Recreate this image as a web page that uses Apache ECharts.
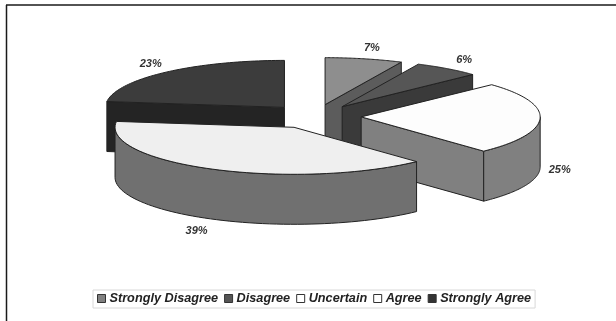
<!DOCTYPE html>
<html>
<head>
<meta charset="utf-8">
<style>html,body{margin:0;padding:0;background:#fff}#chart{width:616px;height:321px}</style>
<script src="https://cdn.jsdelivr.net/npm/echarts@6/dist/echarts.min.js"></script>
</head>
<body>
<div id="chart"></div>
<script>
const categories = ['Strongly Disagree', 'Disagree', 'Uncertain', 'Agree', 'Strongly Agree'];
const percents = [7, 6, 25, 39, 23];
const topColors = ['#8e8e8e', '#565656', '#fdfdfd', '#efefef', '#3c3c3c'];
const sideColors = ['#5c5c5c', '#3a3a3a', '#808080', '#707070', '#242424'];
const legendColors = ['#808080', '#555555', '#ffffff', '#ffffff', '#333333'];
const labelReach = [1.2, 1.16, 1.11, 1.2, 1.13];

// Oblique pie projection
const CX = 315, CY = 116.5, RX = 179, RY = 47, DEPTH = 50, EXPLODE = 0.258;
const OUTLINE = '#222222';
const total = percents.reduce((a, b) => a + b, 0);
const RAD = Math.PI / 180;

// Clockwise angles from twelve o'clock for each slice
const spans = [];
percents.reduce((acc, v) => {
  const end = acc + v / total * 360;
  spans.push([acc, end]);
  return end;
}, 0);
const midCos = spans.map(s => Math.cos((s[0] + s[1]) / 2 * RAD));
// Slices further back are painted first
const paintRank = midCos.map(c => midCos.filter(o => o > c).length);

function sliceElements(i, value) {
  const [a0, a1] = spans[i];
  const mid = (a0 + a1) / 2 * RAD;
  const ax = CX + EXPLODE * RX * Math.sin(mid);
  const ay = CY - EXPLODE * RY * Math.cos(mid);
  const rim = deg => [ax + RX * Math.sin(deg * RAD), ay - RY * Math.cos(deg * RAD)];
  const down = p => [p[0], p[1] + DEPTH];
  const wall = pts => ({
    type: 'polygon', shape: { points: pts },
    style: { fill: sideColors[i], stroke: OUTLINE, lineWidth: 1, lineJoin: 'round' }
  });
  const children = [];

  // Radial wall facing the viewer
  [a0, a1].forEach((deg, k) => {
    const s = Math.sin(deg * RAD);
    if ((k === 0 && s < -1e-6) || (k === 1 && s > 1e-6)) {
      const p = rim(deg), c = [ax, ay];
      children.push(wall([c, p, down(p), down(c)]));
    }
  });

  // Curved outer wall, only where the rim faces front
  const from = Math.max(a0, 90), to = Math.min(a1, 270);
  if (to > from) {
    const arc = [];
    for (let d = from; d <= to + 1e-6; d += (to - from) / 60) arc.push(rim(d));
    children.push(wall(arc.concat(arc.slice().reverse().map(down))));
  }

  // Top face
  const top = [[ax, ay]];
  for (let d = a0; d <= a1 + 1e-6; d += (a1 - a0) / 60) top.push(rim(d));
  children.push({
    type: 'polygon', shape: { points: top },
    style: { fill: topColors[i], stroke: OUTLINE, lineWidth: 1, lineJoin: 'round' }
  });

  // Percentage label outside the rim
  children.push({
    type: 'text',
    x: ax + labelReach[i] * RX * Math.sin(mid),
    y: ay - 1.25 * RY * Math.cos(mid) + (Math.cos(mid) < 0 ? DEPTH : 0) + 1,
    style: {
      text: value + '%', align: 'center', verticalAlign: 'middle',
      font: 'italic bold 11px "Liberation Sans", Arial, sans-serif', fill: '#333333'
    }
  });
  return { type: 'group', children };
}

const chart = echarts.init(document.getElementById('chart'), null, { renderer: 'canvas' });
chart.setOption({
  animation: false,
  backgroundColor: '#ffffff',
  legend: {
    left: 93, top: 290,
    orient: 'horizontal',
    icon: 'rect',
    itemWidth: 8, itemHeight: 8, itemGap: 6,
    padding: [2, 4, 3, 4],
    borderColor: '#d8d8d8', borderWidth: 1,
    selectedMode: false,
    textStyle: {
      color: '#222222', fontSize: 12.7, fontStyle: 'italic', fontWeight: 'bold',
      fontFamily: '"Liberation Sans", Arial, sans-serif', padding: [0, 0, 0, -1]
    },
    data: categories.map((name, i) => ({
      name,
      itemStyle: { color: legendColors[i], borderColor: '#333333', borderWidth: 1 }
    }))
  },
  graphic: [
    { type: 'line', shape: { x1: 6.5, y1: 5, x2: 6.5, y2: 321 }, style: { stroke: '#1a1a1a', lineWidth: 1.5 } },
    { type: 'line', shape: { x1: 6, y1: 5, x2: 616, y2: 5 }, style: { stroke: '#1a1a1a', lineWidth: 1.5 } }
  ],
  series: categories.map((name, i) => ({
    type: 'custom',
    name,
    coordinateSystem: 'none',
    z: 2 + paintRank[i],
    data: [[percents[i]]],
    renderItem: (params, api) => sliceElements(i, api.value(0))
  }))
});
</script>
</body>
</html>
